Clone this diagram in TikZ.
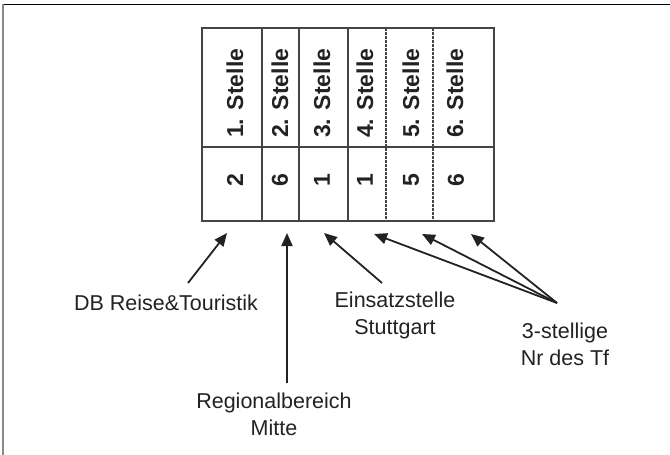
\documentclass[tikz,border=0pt]{standalone}
\usepackage{fontspec}
\setmainfont{Liberation Sans}
\usetikzlibrary{arrows.meta}
\definecolor{ink}{HTML}{222222}
\definecolor{grid}{HTML}{444444}
\definecolor{framegray}{HTML}{888888}
\tikzset{
  cellline/.style={draw=grid, line width=1.8pt},
  dashline/.style={draw=grid, line width=1.2pt, dash pattern=on 2.5pt off 1.5pt},
  head/.style={rotate=90, anchor=west, inner sep=0pt, text=ink, font=\fontsize{23}{26}\selectfont\bfseries},
  digit/.style={rotate=90, anchor=center, inner sep=0pt, text=ink, font=\fontsize{23}{26}\selectfont\bfseries},
  lbl/.style={align=center, inner sep=0pt, text=ink, font=\fontsize{21.5}{27}\selectfont},
  arr/.style={draw=ink, line width=1.8pt, -{Triangle[length=13pt,width=11pt]}},
}
\begin{document}
\begin{tikzpicture}[x=1pt,y=-1pt]
\useasboundingbox (0,0) rectangle (670,455);
% outer frame (top and left only)
\draw[black, line width=1pt] (2,4) -- (670,4);
\draw[framegray, line width=2pt] (3,4) -- (3,455);
% table
\draw[cellline] (202,28) rectangle (494,221);
\draw[cellline] (202,147) -- (494,147);
\foreach \x in {262,299,348} \draw[cellline] (\x,28) -- (\x,221);
\foreach \x in {386,433} \draw[dashline] (\x,28) -- (\x,221);
% headings
\node[head] (h1) at (235,138) {1. Stelle};
\node[head] (h2) at (280,138) {2. Stelle};
\node[head] (h3) at (322,138) {3. Stelle};
\node[head] (h4) at (365,138) {4. Stelle};
\node[head] (h5) at (411,138) {5. Stelle};
\node[head] (h6) at (455,138) {6. Stelle};
% digits
\node[digit] (d1) at (235,180) {2};
\node[digit] (d2) at (280,180) {6};
\node[digit] (d3) at (322,180) {1};
\node[digit] (d4) at (365,180) {1};
\node[digit] (d5) at (411,180) {5};
\node[digit] (d6) at (456,180) {6};
% labels
\node[lbl] (db) at (166,303) {DB Reise\&Touristik};
\node[lbl] (rb) at (274,414) {Regionalbereich\\Mitte};
\node[lbl] (es) at (395,315) {Einsatzstelle\\Stuttgart};
\node[lbl] (tf) at (565,344) {3-stellige\\Nr des Tf};
% arrow ends
\coordinate (dbS) at (188,283);
\coordinate (rbS) at (287,383);
\coordinate (esS) at (382,283);
\coordinate (tfS) at (557,303);
\coordinate (t1) at (227,233);
\coordinate (t2) at (287,233);
\coordinate (t3) at (324,233);
\coordinate (t4) at (374,234);
\coordinate (t5) at (422,234);
\coordinate (t6) at (471,234);
\draw[arr] (dbS) -- (t1);
\draw[arr] (rbS) -- (t2);
\draw[arr] (esS) -- (t3);
\draw[arr] (tfS) -- (t4);
\draw[arr] (tfS) -- (t5);
\draw[arr] (tfS) -- (t6);
\end{tikzpicture}
\end{document}
